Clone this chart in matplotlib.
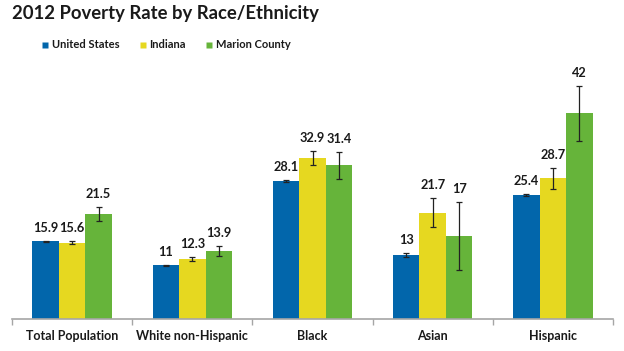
import matplotlib
matplotlib.use("Agg")
import matplotlib.pyplot as plt
import numpy as np
from matplotlib.lines import Line2D

plt.rcParams['font.family'] = ['Lato', 'DejaVu Sans']

categories = ["Total Population", "White non-Hispanic", "Black", "Asian", "Hispanic"]
series_names = ["United States", "Indiana", "Marion County"]
us = [15.9, 11, 28.1, 13, 25.4]
indiana = [15.6, 12.3, 32.9, 21.7, 28.7]
marion = [21.5, 13.9, 31.4, 17, 42]
us_err = [0.1, 0.1, 0.2, 0.4, 0.2]
indiana_err = [0.25, 0.37, 1.4, 3.0, 2.1]
marion_err = [1.4, 1.1, 2.75, 6.9, 5.6]
labels_us = ["15.9", "11", "28.1", "13", "25.4"]
labels_in = ["15.6", "12.3", "32.9", "21.7", "28.7"]
labels_mc = ["21.5", "13.9", "31.4", "17", "42"]

colors = ["#0266AB", "#E6D820", "#66B43A"]

fig = plt.figure(figsize=(6.24, 3.51), dpi=100)
ax = fig.add_axes([12/624, 32/351, (613-12)/624, (319-60)/351])

x = np.arange(len(categories))
w = 0.22
series = [(us, us_err, labels_us), (indiana, indiana_err, labels_in), (marion, marion_err, labels_mc)]
for i, (vals, errs, labs) in enumerate(series):
    pos = x + (i - 1) * w
    ax.bar(pos, vals, width=w, color=colors[i], edgecolor='none', zorder=2)
    ax.errorbar(pos, vals, yerr=errs, fmt='none', ecolor='#222222', elinewidth=0.9,
                capsize=2.5, capthick=0.9, zorder=3)
    for p, v, e, t in zip(pos, vals, errs, labs):
        ax.annotate(t, (p, v + e), xytext=(0, 13 * 0.72), textcoords='offset points',
                    ha='center', va='center', fontsize=9.2, fontweight='bold', color='#1a1a1a')

ax.set_xlim(-0.5, len(categories) - 0.5)
ax.set_ylim(0, 52.9)
for s in ['top', 'right', 'left']:
    ax.spines[s].set_visible(False)
ax.spines['bottom'].set_color('#a6a6a6')
ax.spines['bottom'].set_linewidth(1.2)
ax.set_yticks([])
ax.set_xticks(np.arange(-0.5, len(categories), 1.0))
ax.set_xticklabels([])
ax.set_xticks(x, minor=True)
ax.set_xticklabels(categories, minor=True, fontsize=9, fontweight='bold', color='#1a1a1a')
ax.tick_params(axis='x', which='major', length=4, color='#a6a6a6', width=1)
ax.tick_params(axis='x', which='minor', length=0, pad=8)

fig.text(12/624, 1 - 14/351, "2012 Poverty Rate by Race/Ethnicity", fontsize=13.3,
         fontweight='bold', color='#1a1a1a', ha='left', va='center')

handles = [Line2D([0], [0], marker='s', linestyle='none', markersize=5,
                  markerfacecolor=c, markeredgecolor='none') for c in colors]
leg = fig.legend(handles, series_names, loc='center', bbox_to_anchor=(165/624, 1 - 45/351),
                 ncol=3, frameon=False, prop={'size': 8, 'weight': 'bold'},
                 handletextpad=0.1, columnspacing=1.6, handlelength=1.0)
for t in leg.get_texts():
    t.set_color('#1a1a1a')

fig.savefig("out.png", dpi=100)
